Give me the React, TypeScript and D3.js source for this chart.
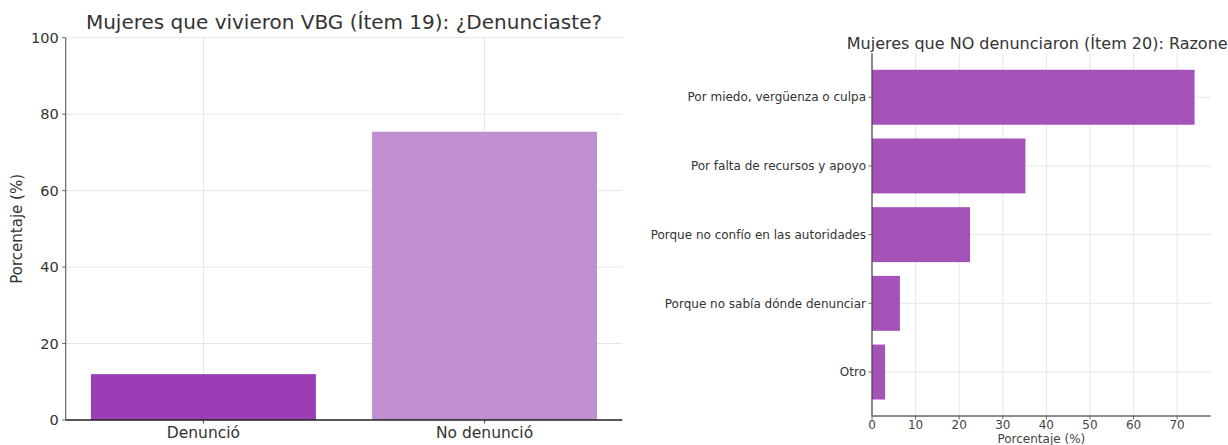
import React from "react";
import * as d3 from "d3";

const leftCategories = ["Denunció", "No denunció"];
const leftValues = [12.0, 75.4];
const leftColors = ["#9b3db4", "#c18ed2"];
const leftTicks = [0, 20, 40, 60, 80, 100];

const rightCategories = [
  "Por miedo, vergüenza o culpa",
  "Por falta de recursos y apoyo",
  "Porque no confío en las autoridades",
  "Porque no sabía dónde denunciar",
  "Otro",
];
const rightValues = [74, 35.2, 22.5, 6.4, 3.0];
const rightTicks = [0, 10, 20, 30, 40, 50, 60, 70];

const FONT = "DejaVu Sans, sans-serif";
const GRID = "#e6e6e6";

export default function App() {
  // Left chart
  const lx0 = 65.7, lx1 = 622.3, ly0 = 420, ly1 = 37.7;
  const lx = d3.scaleBand<string>().domain(leftCategories).range([lx0, lx1]).paddingInner(0.2).paddingOuter(0.09);
  const ly = d3.scaleLinear().domain([0, 100]).range([ly0, ly1]);

  // Right chart
  const rx0 = 872, rx1 = 1210.7, ry0 = 53.3, ry1 = 416;
  const rx = d3.scaleLinear().domain([0, 74 * 1.05]).range([rx0, rx1]);
  const ry = d3.scaleBand<string>().domain(rightCategories).range([ry0, ry1]).paddingInner(0.2).paddingOuter(0.24);

  return (
    <svg
      width={1228}
      height={445}
      style={{ position: "absolute", left: 0, top: 0, background: "#fff", overflow: "hidden" }}
      fontFamily={FONT}
    >
      <rect x={0} y={0} width={1228} height={445} fill="#fff" />
      {/* LEFT CHART */}
      <g>
        {leftTicks.map((t) => (
          <line key={"lg" + t} x1={lx0} x2={lx1} y1={ly(t)} y2={ly(t)} stroke={GRID} strokeWidth={1} />
        ))}
        {leftCategories.map((c) => (
          <line key={"lvg" + c} x1={lx(c)! + lx.bandwidth() / 2} x2={lx(c)! + lx.bandwidth() / 2} y1={ly0} y2={ly1} stroke={GRID} strokeWidth={1} />
        ))}
        {leftCategories.map((c, i) => (
          <rect key={"lb" + c} x={lx(c)!} width={lx.bandwidth()} y={ly(leftValues[i])} height={ly0 - ly(leftValues[i])} fill={leftColors[i]} />
        ))}
        <line x1={lx0} x2={lx0} y1={ly0} y2={ly1} stroke="#666" strokeWidth={1.2} />
        <line x1={lx0} x2={lx1} y1={ly0} y2={ly0} stroke="#222" strokeWidth={1.4} />
        {leftTicks.map((t) => (
          <g key={"lt" + t}>
            <line x1={lx0 - 3.5} x2={lx0} y1={ly(t)} y2={ly(t)} stroke="#666" />
            <text x={lx0 - 7} y={ly(t)} dy="0.35em" textAnchor="end" fontSize={14.5} fill="#333">{t}</text>
          </g>
        ))}
        {leftCategories.map((c) => (
          <g key={"lxt" + c}>
            <line x1={lx(c)! + lx.bandwidth() / 2} x2={lx(c)! + lx.bandwidth() / 2} y1={ly0} y2={ly0 + 3.5} stroke="#444" />
            <text x={lx(c)! + lx.bandwidth() / 2} y={438} textAnchor="middle" fontSize={15.5} fill="#333">{c}</text>
          </g>
        ))}
        <text transform={`translate(22,${(ly0 + ly1) / 2}) rotate(-90)`} textAnchor="middle" fontSize={15} fill="#333">Porcentaje (%)</text>
        <text x={(lx0 + lx1) / 2} y={29} textAnchor="middle" fontSize={20} fill="#333">Mujeres que vivieron VBG (Ítem 19): ¿Denunciaste?</text>
      </g>

      {/* RIGHT CHART */}
      <g>
        {rightTicks.map((t) => (
          <line key={"rg" + t} x1={rx(t)} x2={rx(t)} y1={ry0} y2={ry1} stroke={GRID} strokeWidth={1} />
        ))}
        {rightCategories.map((c) => (
          <line key={"rhg" + c} x1={rx0} x2={rx1} y1={ry(c)! + ry.bandwidth() / 2} y2={ry(c)! + ry.bandwidth() / 2} stroke={GRID} strokeWidth={1} />
        ))}
        {rightCategories.map((c, i) => (
          <rect key={"rb" + c} x={rx0} width={rx(rightValues[i]) - rx0} y={ry(c)!} height={ry.bandwidth()} fill="#a552b9" />
        ))}
        <line x1={rx0} x2={rx0} y1={ry0} y2={ry1} stroke="#444" strokeWidth={1.2} />
        <line x1={rx0} x2={rx1} y1={ry1} y2={ry1} stroke="#666" strokeWidth={1.4} />
        {rightTicks.map((t) => (
          <g key={"rt" + t}>
            <line x1={rx(t)} x2={rx(t)} y1={ry1} y2={ry1 + 3.5} stroke="#666" />
            <text x={rx(t)} y={429} textAnchor="middle" fontSize={12} fill="#444">{t}</text>
          </g>
        ))}
        {rightCategories.map((c) => (
          <g key={"ryt" + c}>
            <line x1={rx0 - 3.5} x2={rx0} y1={ry(c)! + ry.bandwidth() / 2} y2={ry(c)! + ry.bandwidth() / 2} stroke="#666" />
            <text x={rx0 - 6} y={ry(c)! + ry.bandwidth() / 2} dy="0.35em" textAnchor="end" fontSize={12} fill="#333">{c}</text>
          </g>
        ))}
        <text x={(rx0 + rx1) / 2} y={443} textAnchor="middle" fontSize={12} fill="#444">Porcentaje (%)</text>
        <text x={(rx0 + rx1) / 2} y={49} textAnchor="middle" fontSize={16} fill="#333">Mujeres que NO denunciaron (Ítem 20): Razones</text>
      </g>
    </svg>
  );
}
